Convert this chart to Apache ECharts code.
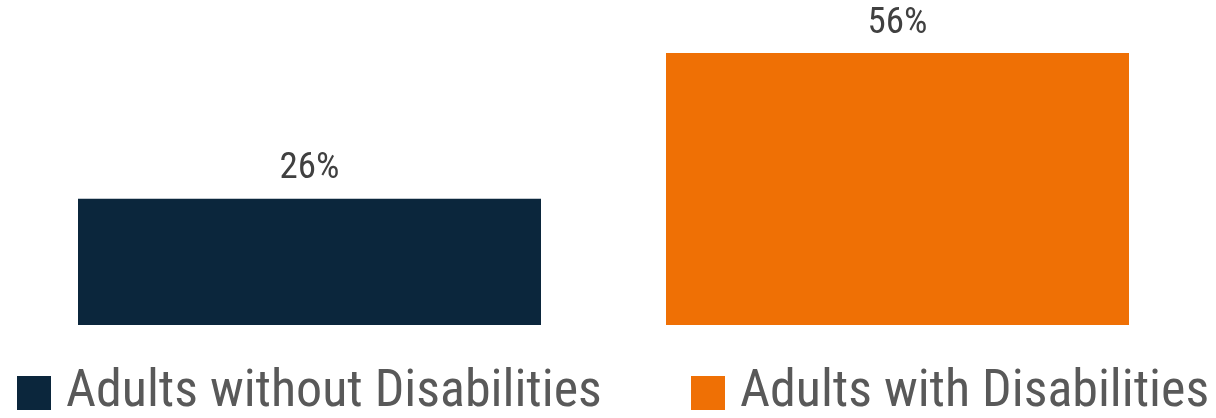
<!DOCTYPE html>
<html>
<head>
<meta charset="utf-8">
<script src="https://cdn.jsdelivr.net/npm/echarts@6/dist/echarts.min.js"></script>
<style>
  html, body { margin: 0; padding: 0; background: #ffffff; }
  #chart { width: 1216px; height: 418px; }
</style>
</head>
<body>
<div id="chart"></div>
<script>
// Share of adults, by disability status (percent)
const categories = ['Adults without Disabilities', 'Adults with Disabilities'];
const withoutValues = [26, '-'];
const withValues = ['-', 56];
const seriesColors = ['#0b263c', '#ef7005'];

const FONT = "'Roboto Condensed', 'DejaVu Sans Condensed', sans-serif";

const chart = echarts.init(document.getElementById('chart'));

const labelStyle = {
  show: true,
  position: 'top',
  distance: 11,
  formatter: '{c}%',
  color: '#404040',
  fontFamily: FONT,
  fontSize: 37
};

const legendText = {
  color: '#595959',
  fontFamily: FONT,
  fontSize: 52,
  padding: [0, 0, 0, 10]
};

function legendAt(left, name) {
  return {
    left: left,
    top: 362,
    icon: 'rect',
    itemWidth: 34,
    itemHeight: 34,
    data: [name],
    textStyle: legendText
  };
}

chart.setOption({
  animation: false,
  grid: { left: 15.5, width: 1176, top: 33.6, bottom: 93 },
  xAxis: {
    type: 'category',
    data: categories,
    show: false
  },
  yAxis: {
    type: 'value',
    min: 0,
    max: 60,
    show: false
  },
  legend: [legendAt(12, categories[0]), legendAt(686, categories[1])],
  series: [
    {
      name: categories[0],
      type: 'bar',
      data: withoutValues,
      barWidth: 463,
      barGap: '-100%',
      itemStyle: { color: seriesColors[0] },
      label: labelStyle
    },
    {
      name: categories[1],
      type: 'bar',
      data: withValues,
      barWidth: 463,
      barGap: '-100%',
      itemStyle: { color: seriesColors[1] },
      label: labelStyle
    }
  ]
});
</script>
</body>
</html>
